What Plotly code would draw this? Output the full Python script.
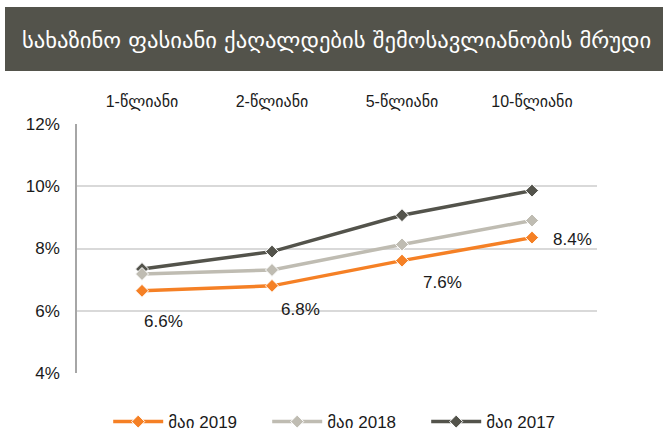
import plotly.graph_objects as go

title = "სახაზინო ფასიანი ქაღალდების შემოსავლიანობის მრუდი"
categories = ["1-წლიანი", "2-წლიანი", "5-წლიანი", "10-წლიანი"]
series_names = ["მაი 2019", "მაი 2018", "მაი 2017"]
may2019 = [0.0664, 0.0680, 0.0761, 0.0835]
may2018 = [0.0718, 0.0731, 0.0813, 0.0890]
may2017 = [0.0734, 0.0790, 0.0907, 0.0986]
labels_2019 = ["6.6%", "6.8%", "7.6%", "8.4%"]
colors = ["#F58025", "#BFBCB2", "#53534B"]

FONT = "Liberation Sans, Arial, DejaVu Sans, sans-serif"

fig = go.Figure()
for name, vals, col in zip(series_names, [may2019, may2018, may2017], colors):
    fig.add_trace(go.Scatter(
        x=categories, y=vals, name=name, mode="lines+markers",
        line=dict(color=col, width=3.5),
        marker=dict(symbol="diamond", size=10, color=col, line=dict(color="white", width=1)),
    ))

# draw 2019 on top: reorder traces (legend order kept via legendrank)
fig.data = fig.data[::-1]
for i, tr in enumerate(fig.data):
    tr.legendrank = 3 - i

shifts = [(21, -31), (28, -24), (40, -22), (40, -2)]
for c, v, lab, (dx, dy) in zip(categories, may2019, labels_2019, shifts):
    fig.add_annotation(x=c, y=v, text=lab, showarrow=False, xshift=dx, yshift=dy,
                       font=dict(family=FONT, size=17, color="#1a1a1a"))

# title banner
fig.add_shape(type="rect", xref="paper", yref="paper",
              x0=(5 - 77) / 520, x1=(663 - 77) / 520,
              y0=1 + (124 - 71) / 249, y1=1 + (124 - 7) / 249,
              fillcolor="#53534B", line=dict(width=0), layer="below")
fig.add_annotation(xref="paper", yref="paper", x=(336 - 77) / 520, y=1 + (124 - 40) / 249,
                   text=title, showarrow=False, xanchor="center", yanchor="middle",
                   font=dict(family="DejaVu Sans, sans-serif", size=22.6, color="white"))

fig.update_layout(
    width=668, height=440,
    margin=dict(l=77, r=71, t=124, b=67, autoexpand=False),
    paper_bgcolor="white", plot_bgcolor="white",
    font=dict(family=FONT, size=16, color="#1a1a1a"),
    showlegend=True,
    legend=dict(orientation="h", x=0.06, xanchor="left", y=-0.197, yanchor="middle",
                font=dict(family=FONT, size=17, color="#1a1a1a"),
                entrywidth=94, entrywidthmode="pixels", traceorder="normal",
                itemwidth=50),
    xaxis=dict(type="category", side="top", range=[-0.5, 3.5], showgrid=False,
               showline=False, zeroline=False, ticks="outside", ticklen=10,
               tickcolor="rgba(0,0,0,0)", tickfont=dict(family=FONT, size=16, color="#1a1a1a")),
    yaxis=dict(range=[0.04, 0.12], dtick=0.02, tickformat=".0%", showgrid=True,
               gridcolor="#D9D9D9", gridwidth=1.5, showline=True, linecolor="#A6A6A6", linewidth=1.5,
               zeroline=False, ticks="", ticklabelstandoff=12,
               tickfont=dict(family=FONT, size=17, color="#1a1a1a")),
)

fig.write_html("out.html", config={"displayModeBar": False},
               post_script="document.body.style.margin='0';document.body.style.overflow='hidden';")
